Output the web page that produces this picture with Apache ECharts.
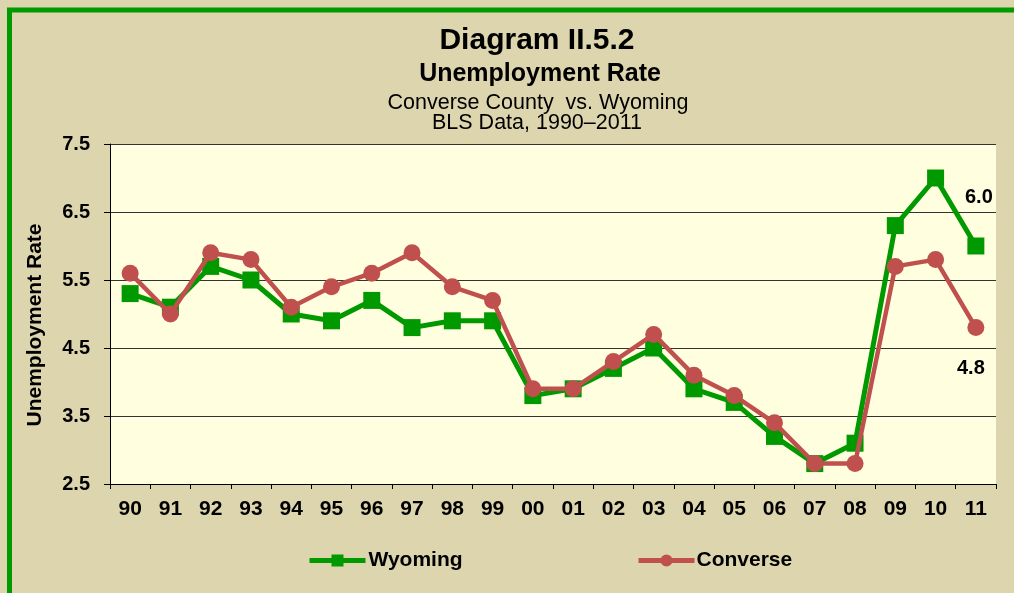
<!DOCTYPE html>
<html>
<head>
<meta charset="utf-8">
<script src="https://cdn.jsdelivr.net/npm/echarts@6/dist/echarts.min.js"></script>
<style>
html, body { margin: 0; padding: 0; }
#myLineChart { width: 1014px; height: 593px; }
</style>
</head>
<body>
<div id="myLineChart"></div>
<script>
var years = ['90', '91', '92', '93', '94', '95', '96', '97', '98', '99', '00',
    '01', '02', '03', '04', '05', '06', '07', '08', '09', '10', '11'];
var wyoming = [5.3, 5.1, 5.7, 5.5, 5.0, 4.9, 5.2, 4.8, 4.9, 4.9, 3.8,
    3.9, 4.2, 4.5, 3.9, 3.7, 3.2, 2.8, 3.1, 6.3, 7.0, 6.0];
var converse = [5.6, 5.0, 5.9, 5.8, 5.1, 5.4, 5.6, 5.9, 5.4, 5.2, 3.9,
    3.9, 4.3, 4.7, 4.1, 3.8, 3.4, 2.8, 2.8, 5.7, 5.8, 4.8];
var titleLines = ['Diagram II.5.2', 'Unemployment Rate', 'Converse County  vs. Wyoming', 'BLS Data, 1990\u20132011'];

var fontFam = 'Liberation Sans, Arial, sans-serif';
var last = years.length - 1;

var myChart = echarts.init(document.getElementById('myLineChart'));

function lastLabel(params) {
    return params.dataIndex === last ? params.value.toFixed(1) : '';
}

var option = {
    backgroundColor: '#DDD5AE',
    textStyle: { fontFamily: fontFam },
    title: [
        { text: titleLines[0], left: 532, top: 21, textAlign: 'center',
          textStyle: { fontSize: 30, fontWeight: 'bold', color: '#000', fontFamily: fontFam } },
        { text: titleLines[1], left: 535, top: 57, textAlign: 'center',
          textStyle: { fontSize: 25, fontWeight: 'bold', color: '#000', fontFamily: fontFam } },
        { text: titleLines[2], left: 533, top: 87, textAlign: 'center',
          textStyle: { fontSize: 21.5, fontWeight: 'normal', color: '#000', fontFamily: fontFam } },
        { text: titleLines[3], left: 532, top: 107, textAlign: 'center',
          textStyle: { fontSize: 21.5, fontWeight: 'normal', color: '#000', fontFamily: fontFam } }
    ],
    graphic: [
        {
            type: 'rect',
            shape: { x: 9.5, y: 10, width: 1100, height: 700 },
            style: { fill: 'none', stroke: '#009900', lineWidth: 5 },
            silent: true
        }
    ],
    legend: [
        {
            data: ['Wyoming'], left: 307, top: 550, padding: 0,
            itemWidth: 56, itemHeight: 15, itemGap: 4,
            lineStyle: { width: 5 },
            textStyle: { fontSize: 21, fontWeight: 'bold', color: '#000', padding: [0, 0, 0, -2] }
        },
        {
            data: ['Converse'], left: 636, top: 550, padding: 0,
            itemWidth: 56, itemHeight: 15,
            lineStyle: { width: 5 },
            textStyle: { fontSize: 21, fontWeight: 'bold', color: '#000', padding: [0, 0, 0, -3] }
        }
    ],
    grid: {
        left: 110,
        right: 18,
        top: 144,
        bottom: 109,
        show: true,
        backgroundColor: '#FFFFE0',
        borderWidth: 0,
        containLabel: false
    },
    xAxis: {
        type: 'category',
        boundaryGap: true,
        data: years,
        axisLine: { show: true, lineStyle: { color: '#000', width: 1 } },
        axisTick: { show: true, length: 5, lineStyle: { color: '#000' } },
        axisLabel: { margin: 15, fontSize: 21, fontWeight: 'bold', color: '#000' },
        splitLine: { show: false }
    },
    yAxis: {
        type: 'value',
        min: 2.5,
        max: 7.5,
        interval: 1,
        name: 'Unemployment Rate',
        nameLocation: 'middle',
        nameGap: 64,
        nameTextStyle: { fontSize: 21, fontWeight: 'bold', color: '#000', padding: [0, 22, 0, 0] },
        axisLine: { show: true, lineStyle: { color: '#000', width: 1 } },
        axisTick: { show: true, length: 6, lineStyle: { color: '#000' } },
        axisLabel: {
            margin: 20, fontSize: 20, fontWeight: 'bold', color: '#000',
            formatter: function (v) { return v.toFixed(1); }
        },
        splitLine: { show: true, lineStyle: { color: '#333', width: 1 } }
    },
    series: [
        {
            name: 'Wyoming',
            type: 'line',
            data: wyoming,
            color: '#009900',
            symbol: 'rect',
            symbolSize: 17,
            lineStyle: { width: 5, color: '#009900' },
            itemStyle: { color: '#009900' },
            label: {
                show: true, position: 'top', distance: 30, offset: [3, 0],
                formatter: lastLabel,
                fontSize: 20, fontWeight: 'bold', color: '#000'
            },
            z: 2
        },
        {
            name: 'Converse',
            type: 'line',
            data: converse,
            color: '#C0504D',
            symbol: 'circle',
            symbolSize: 17,
            lineStyle: { width: 4.5, color: '#C0504D' },
            itemStyle: { color: '#C0504D' },
            label: {
                show: true, position: 'bottom', distance: 22, offset: [-5, 0],
                formatter: lastLabel,
                fontSize: 20, fontWeight: 'bold', color: '#000'
            },
            z: 3
        }
    ]
};

myChart.setOption(option);

window.onresize = function () {
    myChart.resize();
};
</script>
</body>
</html>
